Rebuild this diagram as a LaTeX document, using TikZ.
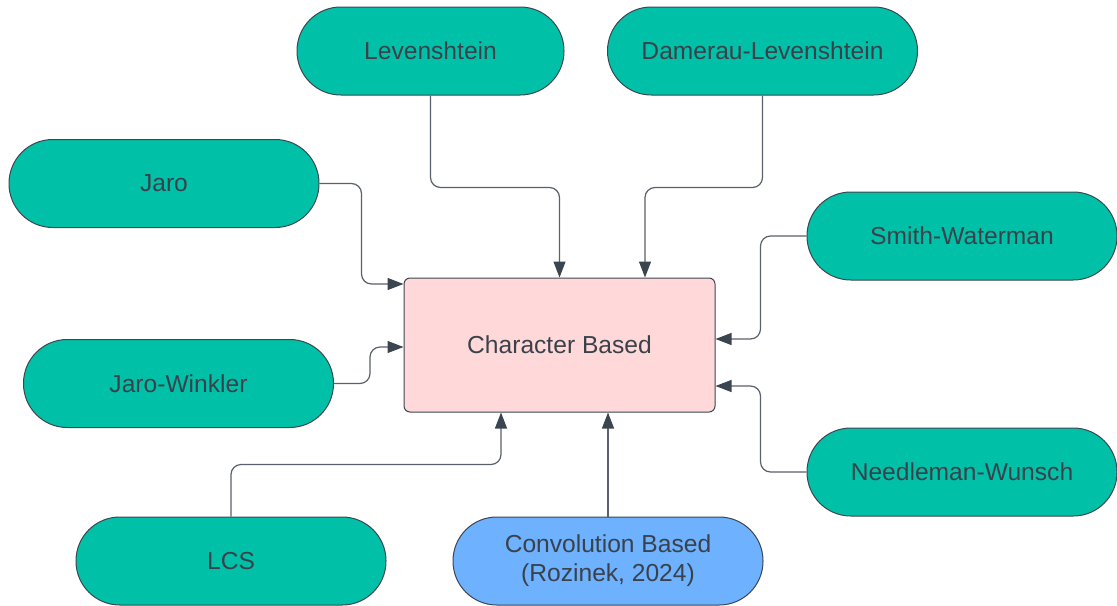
\documentclass[tikz,border=0pt]{standalone}
\usepackage{fontspec}
\setmainfont{Liberation Sans}
\usetikzlibrary{
  arrows.meta,
  positioning,
  calc
}
\definecolor{textgray}{HTML}{3A414A}
\definecolor{edgegray}{HTML}{3B4550}
\definecolor{linegray}{HTML}{5A616A}
\definecolor{teal}{HTML}{00C1A8}
\definecolor{convblue}{HTML}{6DB1FF}
\definecolor{pinkbox}{HTML}{FFD9D9}
\tikzset{
  metric/.style={
    draw=edgegray, line width=0.5pt, fill=teal,
    rounded corners=21.9pt,
    minimum width=155pt, minimum height=44pt,
    text=textgray, align=center,
    font=\fontsize{12.3}{14.5}\selectfont
  },
  central/.style={
    draw=edgegray, line width=0.5pt, fill=pinkbox,
    rounded corners=3pt,
    minimum width=155.5pt, minimum height=67pt,
    text=textgray, font=\fontsize{12.3}{14.5}\selectfont
  },
  feed/.style={
    draw=linegray, line width=0.6pt, rounded corners=5pt,
    -{Triangle[length=8pt,width=6pt,color=edgegray]}
  }
}

\begin{document}
\begin{tikzpicture}[x=0.5pt,y=-0.5pt]
\useasboundingbox (0,0) rectangle (1117,605);

\node[central] (cb) at (559.5,345) {Character Based};

\node[metric, minimum width=133.5pt] (lev) at (430.5,51) {Levenshtein};
\node[metric] (dam) at (762.5,51) {Damerau-Levenshtein};
\node[metric] (jaro) at (164,183.5) {Jaro};
\node[metric] (jw) at (178.5,383.5) {Jaro-Winkler};
\node[metric] (sw) at (962,236) {Smith-Waterman};
\node[metric] (nw) at (962,472) {Needleman-Wunsch};
\node[metric] (lcs) at (231,561) {LCS};
\node[metric, fill=convblue] (conv) at (608,561) {Convolution Based\\(Rozinek, 2024)};

% connectors into the central box
\draw[feed] (lev.south) -- ++(0,92) -| (cb.north);
\draw[feed] (dam.south) -- ++(0,92) -| ([xshift=42.75pt]cb.north);
\draw[feed] (jaro.east) -- ++(42,0) |- ([yshift=30.5pt]cb.west);
\draw[feed] (jw.east) -- ++(36,0) |- ([yshift=-1pt]cb.west);
\draw[feed] (sw.west) -- ++(-46,0) |- ([yshift=3pt]cb.east);
\draw[feed] (nw.west) -- ++(-46,0) |- ([yshift=-20.5pt]cb.east);
\draw[feed] (lcs.north) -- ++(0,-52) -| ([xshift=-29.25pt]cb.south);
\draw[feed] (conv.north) -- (conv.north |- cb.south);
\end{tikzpicture}
\end{document}
